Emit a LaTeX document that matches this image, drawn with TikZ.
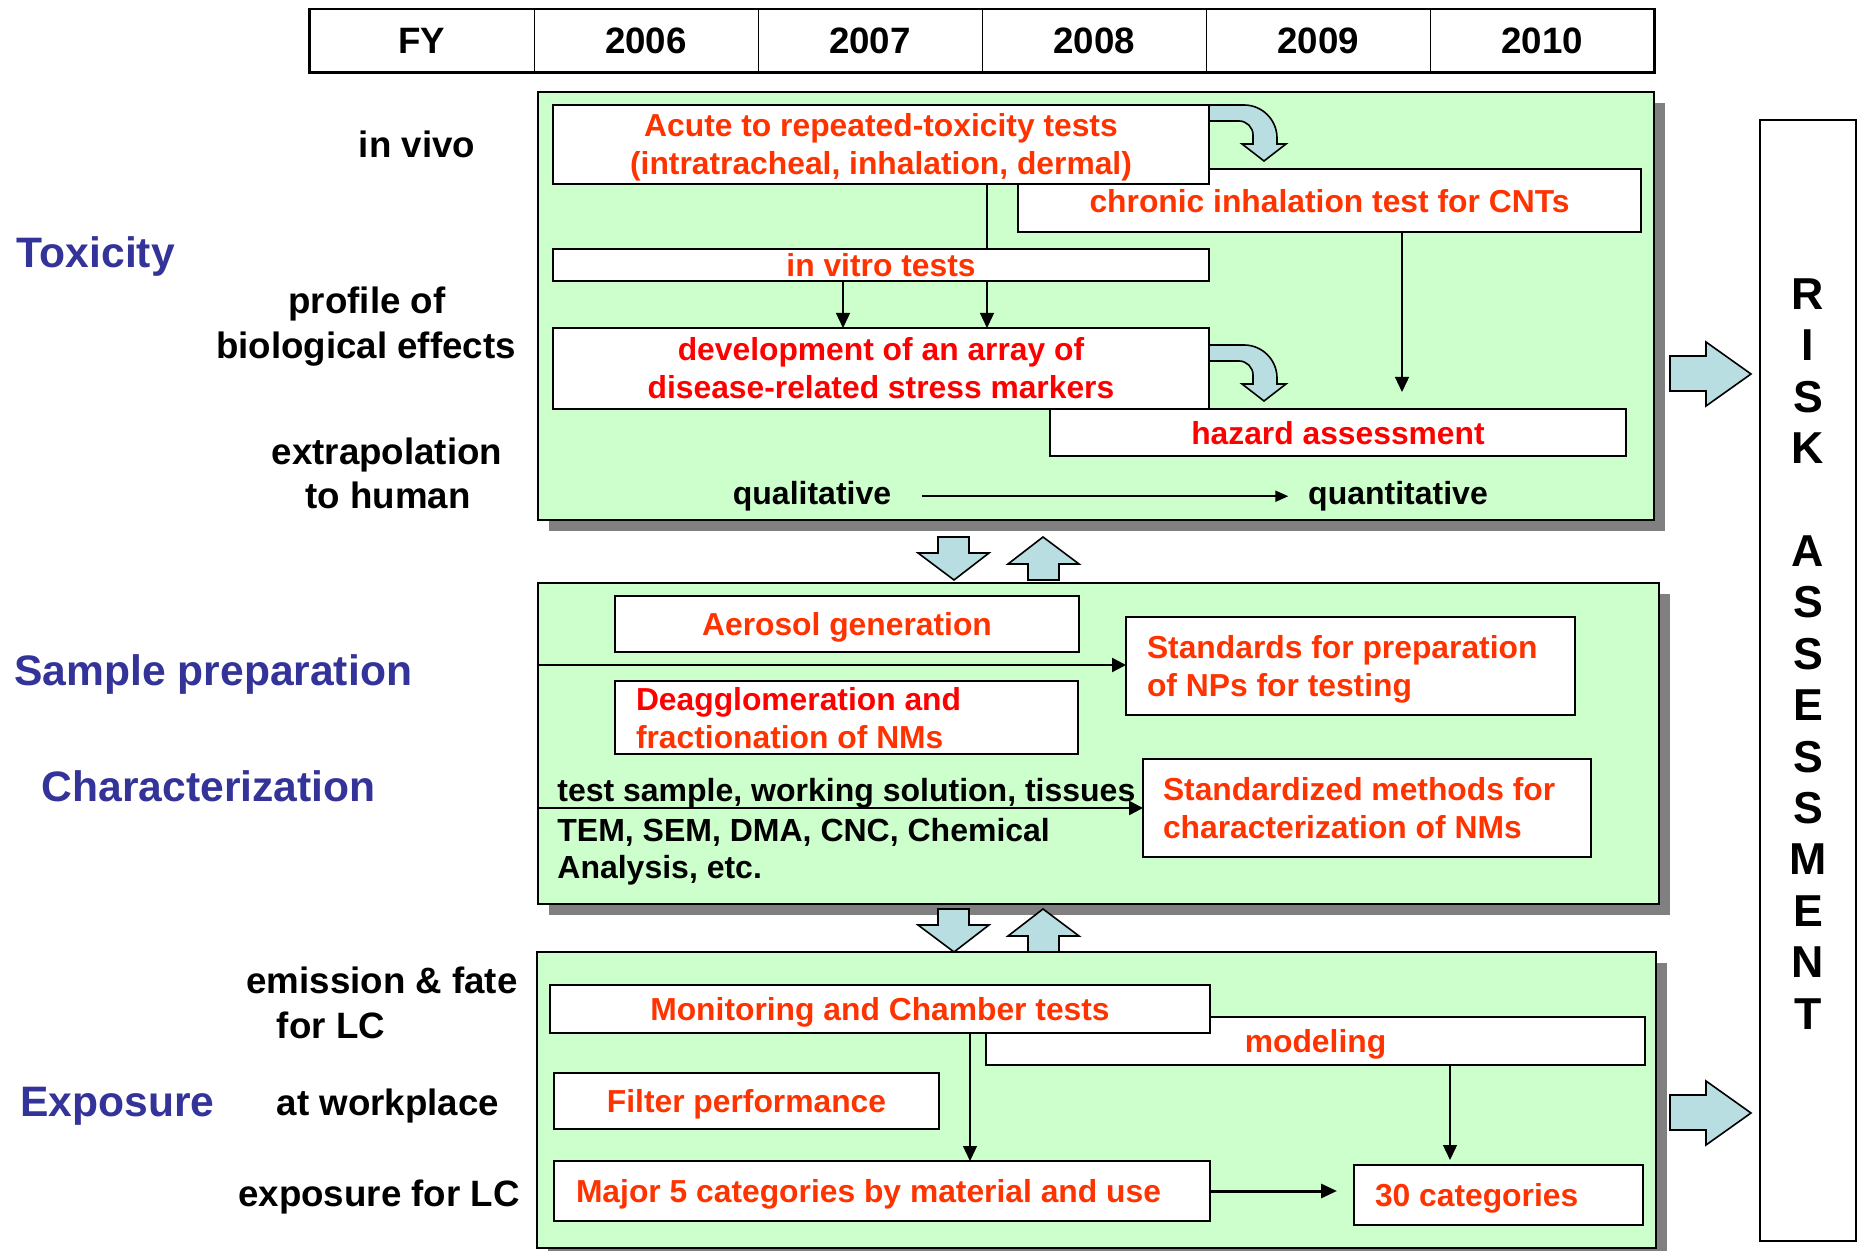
\documentclass[tikz,border=0pt]{standalone}
\usepackage{fontspec}
\setmainfont{Liberation Sans}
\usetikzlibrary{arrows.meta,shadows}
\definecolor{grn}{HTML}{CCFFCC}
\definecolor{redA}{HTML}{FF3300}
\definecolor{redB}{HTML}{FF0000}
\definecolor{hblue}{HTML}{333399}
\definecolor{barrow}{RGB}{185,222,225}
\definecolor{shadowc}{HTML}{808080}
\newcommand\fBlue{\fontsize{21.3}{25}\selectfont\bfseries}
\newcommand\fLab{\fontsize{18.35}{22.5}\selectfont\bfseries}
\newcommand\fRed{\fontsize{15.9}{19}\selectfont\bfseries}
\newcommand\fSm{\fontsize{16}{19.2}\selectfont\bfseries}
\newcommand\fRisk{\fontsize{22.35}{25.72}\selectfont\bfseries}
\newcommand\twoC[2]{\vbox{\halign{\hfil##\hfil\cr #1\cr #2\cr}}}
\newcommand\twoL[2]{\vbox{\halign{##\hfil\cr #1\cr #2\cr}}}
\newcommand\mkbox[7]{\node[#6, minimum width={(#4-#2)*0.5pt}, minimum height={(#5-#3)*0.5pt}] (#1) at ({(#2+#4)/2},{(#3+#5)/2}) {#7};}
\tikzset{
 panel/.style={draw, line width=1.1pt, fill=grn, inner sep=0pt, outer sep=0pt, drop shadow={shadow xshift=5.5pt, shadow yshift=-5.5pt, opacity=1, fill=shadowc}},
 rbox/.style={draw, line width=1pt, fill=white, inner sep=0pt, outer sep=0pt, font=\fRed, text=redA},
 one/.style={text height=13.5pt, text depth=1.8pt},
 two/.style={text height=33pt, text depth=2.5pt},
 lab/.style={font=\fLab, inner sep=0pt, anchor=base},
 head/.style={font=\fBlue, text=hblue, inner sep=0pt, anchor=base west},
 small/.style={font=\fSm, inner sep=0pt, anchor=base west},
 thinarr/.style={line width=0.65pt, -{Triangle[length=7.5pt,width=7pt]}},
 medarr/.style={line width=1.2pt, -{Triangle[length=7pt,width=7pt]}},
 blk/.style={draw, line width=0.8pt, fill=barrow, line join=miter},
 hcell/.style={draw, line width=0.5pt, minimum width=112pt, minimum height=31.25pt, inner sep=0pt, font=\fLab},
}
\begin{document}
\begin{tikzpicture}[x=0.5pt,y=-0.5pt]
\useasboundingbox (0,0) rectangle (1858,1251);
\clip (0,0) rectangle (1858,1251);
\fill[white] (0,0) rectangle (1858,1251);

% helper coordinates
\coordinate (xA) at (843,0);
\coordinate (xB) at (987,0);
\coordinate (xC) at (1402,0);
\coordinate (xD) at (970,0);
\coordinate (xE) at (1450,0);
\coordinate (ya) at (0,665);
\coordinate (yb) at (0,808);

% header
\foreach \i/\t in {0/FY,1/2006,2/2007,3/2008,4/2009,5/2010}
  \node[hcell] (h\i) at ({422+224*\i},40.75) {\t};
\draw[line width=1.2pt] (h0.north west) rectangle (h5.south east);

% panels
\mkbox{panel1}{538}{92}{1654}{520}{panel}{}
\mkbox{panel2}{538}{583}{1659}{904}{panel}{}
\mkbox{panel3}{537}{952}{1656}{1248}{panel}{}

% risk box
\mkbox{risk}{1760}{120}{1856}{1241}{draw, line width=1pt, fill=white, inner sep=0pt}{}
\node[font=\fRisk, align=center, inner sep=0pt, anchor=north] (risklbl) at (1808,278)
  {R\\I\\S\\K\\[25.72pt]A\\S\\S\\E\\S\\S\\M\\E\\N\\T};

% toxicity panel
\mkbox{chronic}{1018}{169}{1641}{232}{rbox, one}{chronic inhalation test for CNTs}
\mkbox{acute}{553}{105}{1209}{184}{rbox, two}{\twoC{Acute to repeated-toxicity tests}{(intratracheal, inhalation, dermal)}}
\mkbox{invitro}{553}{249}{1209}{281}{rbox, one}{in vitro tests}
\mkbox{hazard}{1050}{409}{1626}{456}{rbox, one, text=redB}{hazard assessment}
\mkbox{dev}{553}{328}{1209}{409}{rbox, two, text=redB}{\twoC{development of an array of}{disease-related stress markers}}

\draw[line width=0.65pt] (acute.south -| xB) -- (invitro.north -| xB);
\draw[thinarr] (invitro.south -| xA) -- (dev.north -| xA);
\draw[thinarr] (invitro.south -| xB) -- (dev.north -| xB);
\draw[thinarr, shorten >=8.5pt] (chronic.south -| xC) -- (hazard.north -| xC);

\draw[blk] (1210,105) -- (1244,105) .. controls (1262.2,105) and (1277,119.8) .. (1277,138) -- (1277,144) -- (1286,144) -- (1264,161) -- (1242,144) -- (1253,144) -- (1253,135) .. controls (1253,127.3) and (1246.7,121) .. (1239,121) -- (1210,121);
\begin{scope}[shift={(0,240)}]
\draw[blk] (1210,105) -- (1244,105) .. controls (1262.2,105) and (1277,119.8) .. (1277,138) -- (1277,144) -- (1286,144) -- (1264,161) -- (1242,144) -- (1253,144) -- (1253,135) .. controls (1253,127.3) and (1246.7,121) .. (1239,121) -- (1210,121);
\end{scope}

\node[font=\fSm, inner sep=0pt, anchor=base] (qual) at (812,504.5) {qualitative};
\node[font=\fSm, inner sep=0pt, anchor=base] (quant) at (1398,504.5) {quantitative};
\draw[line width=1pt, -{Triangle[length=6.5pt,width=5.5pt]}, shorten <=15.25pt, shorten >=9.75pt] (qual.east) -- (qual.east -| quant.west);

% block arrows between panels
\foreach \s in {0,372}{
\begin{scope}[shift={(0,\s)}]
\draw[blk] (938,537) -- (969,537) -- (969,553) -- (989,553) -- (954,580) -- (918,553) -- (938,553) -- cycle;
\draw[blk] (1043,537) -- (1079,564) -- (1059,564) -- (1059,580) -- (1028,580) -- (1028,564) -- (1008,564) -- cycle;
\end{scope}}

% right block arrows
\foreach \s in {0,739}{
\begin{scope}[shift={(0,\s)}]
\draw[blk] (1670,356) -- (1706,356) -- (1706,342) -- (1751,374) -- (1706,406) -- (1706,391) -- (1670,391) -- cycle;
\end{scope}}

% sample preparation / characterization panel
\mkbox{aerosol}{615}{596}{1079}{652}{rbox, one}{Aerosol generation}
\mkbox{deagg}{615}{681}{1078}{754}{rbox, two}{\hbox to 210.5pt{\twoL{\textcolor{redB}{Deagglomeration and}}{fractionation of NMs}\hfil}}
\mkbox{standards}{1126}{617}{1575}{715}{rbox, two}{\hbox to 203.5pt{\twoL{Standards for preparation}{of NPs for testing}\hfil}}
\mkbox{standardized}{1143}{759}{1591}{857}{rbox, two}{\hbox to 204pt{\twoL{Standardized methods for}{characterization of NMs}\hfil}}
\node[small] (ts) at (557,801.5) {test sample, working solution, tissues};
\node[small] (tem) at (557,841) {TEM, SEM, DMA, CNC, Chemical};
\node[small] (anal) at (557,878.5) {Analysis, etc.};
\draw[medarr] (panel2.west |- ya) -- (standards.west |- ya);
\draw[medarr] (panel2.west |- yb) -- (standardized.west |- yb);

% exposure panel
\mkbox{modeling}{986}{1017}{1645}{1065}{rbox, one}{modeling}
\mkbox{monitoring}{550}{985}{1210}{1033}{rbox, one}{Monitoring and Chamber tests}
\mkbox{filter}{554}{1073}{939}{1129}{rbox, one}{Filter performance}
\mkbox{major}{554}{1161}{1210}{1221}{rbox, one}{\hbox to 306pt{Major 5 categories by material and use\hfil}}
\mkbox{cat30}{1354}{1165}{1643}{1225}{rbox, one}{\hbox to 123.5pt{30 categories\hfil}}
\draw[thinarr] (monitoring.south -| xD) -- (major.north -| xD);
\draw[thinarr, shorten >=2.5pt] (modeling.south -| xE) -- (cat30.north -| xE);
\draw[line width=1.5pt, -{Triangle[length=8pt,width=7pt]}, shorten >=8.5pt] (major.east) -- (major.east -| cat30.west);

% left labels
\node[lab] (invivo) at (417,158) {in vivo};
\node[head] (tox) at (16.6,268) {Toxicity};
\node[lab] (prof1) at (367,314) {profile of};
\node[lab] (prof2) at (366,359) {biological effects};
\node[lab] (extra1) at (387,465) {extrapolation};
\node[lab] (extra2) at (388,509) {to human};
\node[head] (samp) at (14,685) {Sample preparation};
\node[head] (charz) at (41.5,801) {Characterization};
\node[head] (expo) at (20,1116) {Exposure};
\node[lab] (emis) at (382,993) {emission \& fate};
\node[lab] (forlc) at (331,1038) {for LC};
\node[lab] (workp) at (388,1115) {at workplace};
\node[lab] (explc) at (379,1206) {exposure for LC};
\end{tikzpicture}
\end{document}
